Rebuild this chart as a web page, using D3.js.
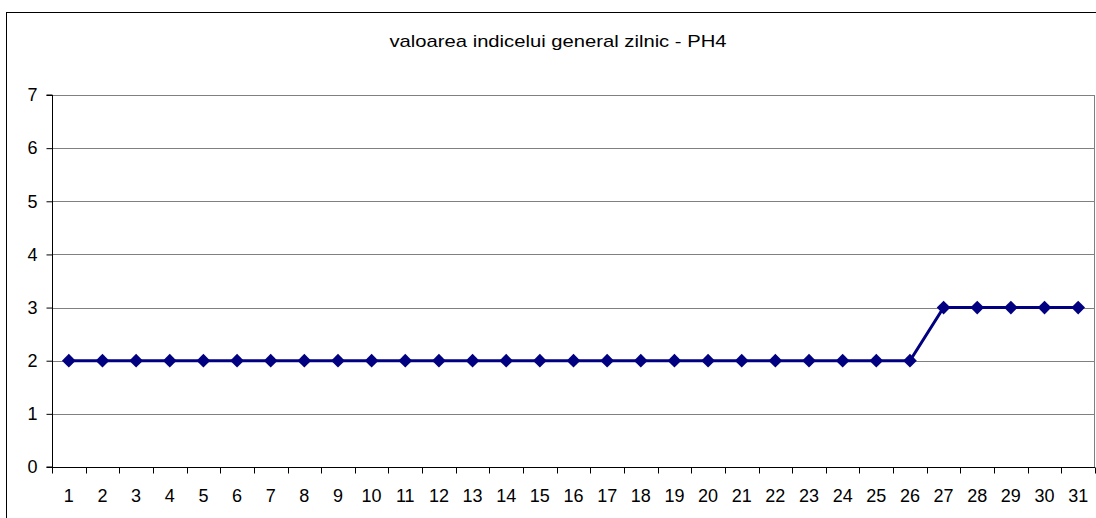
<!DOCTYPE html>
<html>
<head>
<meta charset="utf-8">
<script src="https://cdn.jsdelivr.net/npm/d3@7"></script>
<style>
  body { margin: 0; background: #fff; }
  svg text { font-family: Arial, "Liberation Sans", sans-serif; fill: #000; }
</style>
</head>
<body>
<div id="chart"></div>
<script>
// Data
const days = d3.range(1, 32).map(String);
const values = [2, 2, 2, 2, 2, 2, 2, 2, 2, 2, 2, 2, 2, 2, 2, 2, 2, 2, 2, 2, 2, 2, 2, 2, 2, 2, 3, 3, 3, 3, 3];
const yTickValues = [0, 1, 2, 3, 4, 5, 6, 7];
const title = 'valoarea indicelui general zilnic - PH4';

// Layout
const W = 1096, H = 518;
const margin = {top: 95, right: 1, bottom: 51, left: 52};
const width = W - margin.left - margin.right;
const height = H - margin.top - margin.bottom;

const svg = d3.select('#chart').append('svg')
  .attr('width', W)
  .attr('height', H);

// Outer chart frame
svg.append('rect')
  .attr('x', 6.5).attr('y', 12.5)
  .attr('width', W + 10).attr('height', H + 10)
  .attr('fill', 'none').attr('stroke', '#000').attr('stroke-width', 1);

svg.append('text')
  .attr('x', 558).attr('y', 47)
  .attr('text-anchor', 'middle')
  .attr('textLength', 337)
  .attr('lengthAdjust', 'spacingAndGlyphs')
  .style('font-size', '17px')
  .text(title);

const g = svg.append('g').attr('transform', `translate(${margin.left},${margin.top})`);

const x = d3.scaleBand().domain(days).range([0, width]);
const y = d3.scaleLinear().domain([0, 7]).range([height, 0]);

// Grid lines
g.append('g')
  .selectAll('line')
  .data(yTickValues.filter(d => d > 0))
  .join('line')
  .attr('x1', 0).attr('x2', width)
  .attr('y1', d => Math.round(y(d)) + 0.5).attr('y2', d => Math.round(y(d)) + 0.5)
  .attr('stroke', '#808080').attr('stroke-width', 1);

// Right plot border
g.append('line')
  .attr('x1', width - 0.5).attr('x2', width - 0.5)
  .attr('y1', 0).attr('y2', height)
  .attr('stroke', '#808080');

// Y axis
const yAxis = g.append('g')
  .attr('transform', 'translate(0.5,0)')
  .call(d3.axisLeft(y).tickValues(yTickValues).tickSize(6).tickPadding(9).tickFormat(d3.format('d')));
yAxis.selectAll('text').style('font-size', '18px');
yAxis.selectAll('line, path').attr('stroke', '#000');
yAxis.select('.domain').attr('d', `M-6,${height}H0V0H-6`);

// X axis with ticks between categories
const xAxis = g.append('g')
  .attr('transform', `translate(0,${height + 0.5})`);
xAxis.append('line')
  .attr('x1', 0).attr('x2', width)
  .attr('stroke', '#000');
xAxis.selectAll('.tk')
  .data(d3.range(0, days.length + 1))
  .join('line')
  .attr('class', 'tk')
  .attr('x1', i => Math.round(i * x.step()) + 0.5)
  .attr('x2', i => Math.round(i * x.step()) + 0.5)
  .attr('y1', 0).attr('y2', 6)
  .attr('stroke', '#000');
xAxis.selectAll('text')
  .data(days)
  .join('text')
  .attr('x', d => x(d) + x.bandwidth() / 2)
  .attr('y', 34.5)
  .attr('text-anchor', 'middle')
  .style('font-size', '18px')
  .text(d => d);

// Line
const pts = days.map((d, i) => ({day: d, v: values[i]}));
const line = d3.line()
  .x(d => x(d.day) + x.bandwidth() / 2)
  .y(d => y(d.v));

g.append('path')
  .datum(pts)
  .attr('d', line)
  .attr('fill', 'none')
  .attr('stroke', '#000080')
  .attr('stroke-width', 3);

// Diamond markers
const diamond = d3.symbol().type(d3.symbolDiamond2).size(120);
g.selectAll('.mk')
  .data(pts)
  .join('path')
  .attr('class', 'mk')
  .attr('transform', d => `translate(${x(d.day) + x.bandwidth() / 2},${y(d.v)})`)
  .attr('d', diamond)
  .attr('fill', '#000080');
</script>
</body>
</html>
